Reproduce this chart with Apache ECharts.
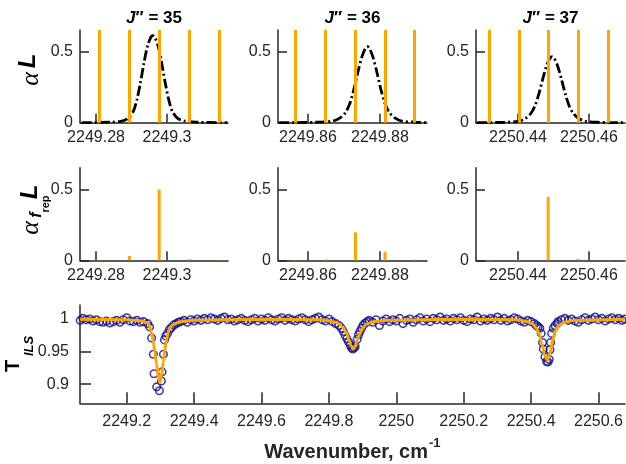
<!DOCTYPE html>
<html>
<head>
<meta charset="utf-8">
<script src="https://cdn.jsdelivr.net/npm/echarts@6/dist/echarts.min.js"></script>
<style>
  html, body { margin: 0; padding: 0; background: #fff; }
  #main { width: 626px; height: 464px; }
</style>
</head>
<body>
<div id="main"></div>
<script>
// panel titles (J'' values)
var jValues = ['35', '36', '37'];

// tick labels
var tickY = [0, 0.5];
var tickTY = [0.9, 0.95, 1];
var tickX = [[2249.28, 2249.3], [2249.86, 2249.88], [2250.44, 2250.46]];
var tickXB = [2249.2, 2249.4, 2249.6, 2249.8, 2250, 2250.2, 2250.4, 2250.6];

// comb mode positions (cm-1) and sampled absorption per panel
var combX = [
  [2249.2809, 2249.2894, 2249.2978, 2249.3063, 2249.3147],
  [2249.8566, 2249.8649, 2249.8732, 2249.8814, 2249.8896],
  [2250.4318, 2250.4403, 2250.4485, 2250.4569, 2250.4654]
];
var combAmp = [
  [0.003, 0.030, 0.500, 0.008, 0.003],
  [0.003, 0.006, 0.197, 0.060, 0.004],
  [0.003, 0.004, 0.448, 0.010, 0.003]
];

// absorption profiles alpha*L
var prof35X = [2249.2760, 2249.2840, 2249.2870, 2249.2890, 2249.2905, 2249.2915, 2249.2925, 2249.2935, 2249.2945, 2249.2955, 2249.2960, 2249.2965, 2249.2975, 2249.2985, 2249.2995, 2249.3005, 2249.3015, 2249.3030, 2249.3050, 2249.3080, 2249.3170];
var prof35Y = [0.000, 0.004, 0.010, 0.030, 0.080, 0.160, 0.280, 0.420, 0.540, 0.605, 0.614, 0.605, 0.540, 0.420, 0.280, 0.160, 0.080, 0.030, 0.012, 0.004, 0.000];
var prof36X = [2249.8520, 2249.8635, 2249.8670, 2249.8690, 2249.8705, 2249.8717, 2249.8728, 2249.8739, 2249.8750, 2249.8760, 2249.8765, 2249.8770, 2249.8780, 2249.8791, 2249.8802, 2249.8813, 2249.8825, 2249.8840, 2249.8860, 2249.8895, 2249.8930];
var prof36Y = [0.000, 0.004, 0.012, 0.035, 0.075, 0.140, 0.240, 0.360, 0.465, 0.527, 0.535, 0.527, 0.465, 0.360, 0.240, 0.140, 0.075, 0.035, 0.012, 0.004, 0.000];
var prof37X = [2250.4285, 2250.4366, 2250.4401, 2250.4421, 2250.4436, 2250.4448, 2250.4459, 2250.4470, 2250.4481, 2250.4491, 2250.4496, 2250.4501, 2250.4511, 2250.4522, 2250.4533, 2250.4544, 2250.4556, 2250.4571, 2250.4591, 2250.4626, 2250.4700];
var prof37Y = [0.000, 0.003, 0.010, 0.030, 0.065, 0.120, 0.205, 0.310, 0.405, 0.458, 0.465, 0.458, 0.405, 0.310, 0.205, 0.120, 0.065, 0.030, 0.010, 0.003, 0.000];

// measured transmission T_ILS
var wn = [
  2249.062, 2249.07, 2249.08, 2249.09, 2249.10, 2249.11, 2249.12, 2249.13, 2249.14, 2249.15, 2249.16, 2249.17, 2249.18, 2249.19, 2249.20, 2249.21, 2249.22, 2249.23, 2249.24, 2249.25,
  2249.262, 2249.268, 2249.274, 2249.279, 2249.281, 2249.289, 2249.297, 2249.303, 2249.305, 2249.309, 2249.312, 2249.316, 2249.321, 2249.327, 2249.333, 2249.340, 2249.347, 2249.354,
  2249.36, 2249.37, 2249.38, 2249.39, 2249.40, 2249.41, 2249.42, 2249.43, 2249.44, 2249.45, 2249.46, 2249.47, 2249.48, 2249.49, 2249.50, 2249.51, 2249.52, 2249.53, 2249.54, 2249.55, 2249.56, 2249.57, 2249.58, 2249.59,
  2249.60, 2249.61, 2249.62, 2249.63, 2249.64, 2249.65, 2249.66, 2249.67, 2249.68, 2249.69, 2249.70, 2249.71, 2249.72, 2249.73, 2249.74, 2249.75, 2249.76, 2249.77, 2249.78, 2249.79, 2249.80, 2249.81, 2249.82, 2249.83,
  2249.837, 2249.843, 2249.848, 2249.853, 2249.858, 2249.863, 2249.867, 2249.871, 2249.875, 2249.878, 2249.884, 2249.888, 2249.892, 2249.897, 2249.902, 2249.908, 2249.914,
  2249.92, 2249.93, 2249.94, 2249.95, 2249.96, 2249.97, 2249.98, 2249.99, 2250.00, 2250.01, 2250.02, 2250.03, 2250.04, 2250.05, 2250.06, 2250.07, 2250.08, 2250.09, 2250.10, 2250.11, 2250.12, 2250.13, 2250.14, 2250.15, 2250.16,
  2250.17, 2250.18, 2250.19, 2250.20, 2250.21, 2250.22, 2250.23, 2250.24, 2250.25, 2250.26, 2250.27, 2250.28, 2250.29, 2250.30, 2250.31, 2250.32, 2250.33, 2250.34, 2250.35, 2250.36, 2250.37, 2250.38, 2250.39, 2250.40, 2250.41,
  2250.416, 2250.421, 2250.426, 2250.430, 2250.434, 2250.436, 2250.441, 2250.446, 2250.450, 2250.454, 2250.456, 2250.458, 2250.461, 2250.466, 2250.471, 2250.477,
  2250.48, 2250.49, 2250.50, 2250.51, 2250.52, 2250.53, 2250.54, 2250.55, 2250.56, 2250.57, 2250.58, 2250.59, 2250.60, 2250.61, 2250.62, 2250.63, 2250.64, 2250.65, 2250.66, 2250.67, 2250.678
];
var tIls = [
  0.998, 1.001, 0.999, 1.000, 0.997, 0.999, 0.996, 0.995, 0.997, 0.994, 0.996, 0.998, 0.995, 0.999, 1.002, 0.997, 0.996, 0.998, 0.995, 0.996,
  0.993, 0.988, 0.971, 0.946, 0.916, 0.896, 0.890, 0.905, 0.919, 0.946, 0.968, 0.974, 0.978, 0.984, 0.987, 0.991, 0.993, 0.995,
  0.996, 0.998, 0.995, 0.999, 0.997, 1.000, 0.998, 1.001, 0.999, 1.002, 1.000, 0.998, 1.001, 1.003, 0.999, 1.000, 0.997, 0.999, 1.001, 0.998, 0.996, 0.999, 1.001, 0.997,
  1.000, 0.998, 1.002, 0.999, 0.997, 1.000, 1.002, 0.998, 1.001, 0.999, 0.997, 1.000, 1.002, 0.999, 0.996, 0.999, 1.001, 1.003, 0.999, 0.997, 1.000, 0.996, 0.993, 0.990,
  0.986, 0.981, 0.975, 0.970, 0.965, 0.960, 0.956, 0.954, 0.956, 0.958, 0.969, 0.976, 0.981, 0.986, 0.991, 0.994, 0.996,
  0.998, 0.995, 0.999, 0.990, 0.997, 1.000, 0.996, 0.999, 0.997, 1.001, 0.993, 0.998, 1.000, 0.995, 0.999, 1.002, 0.997, 1.000, 0.996, 1.001, 0.999, 1.003, 0.998, 1.000, 0.997,
  1.001, 0.999, 1.002, 0.998, 0.996, 1.000, 0.999, 1.003, 0.997, 1.000, 0.998, 1.001, 0.999, 1.003, 0.998, 1.001, 0.997, 0.999, 1.002, 1.000, 0.997, 0.995, 0.998, 0.996, 0.993,
  0.990, 0.988, 0.986, 0.978, 0.964, 0.954, 0.942, 0.935, 0.934, 0.938, 0.953, 0.964, 0.978, 0.986, 0.990, 0.993,
  0.996, 0.999, 1.001, 0.998, 1.000, 0.997, 0.995, 0.999, 1.002, 0.998, 1.000, 1.003, 0.999, 1.001, 0.997, 1.000, 1.002, 0.999, 1.001, 0.998, 1.000
];

// fitted transmission
var fitWn = [2249.062, 2249.200, 2249.240, 2249.2635, 2249.2685, 2249.2735, 2249.2785, 2249.2835, 2249.2885, 2249.2935, 2249.2985, 2249.3035, 2249.3085, 2249.3135, 2249.3185, 2249.3235, 2249.3285, 2249.3385, 2249.3585, 2249.3985, 2249.600, 2249.780,
  2249.822, 2249.832, 2249.842, 2249.852, 2249.860, 2249.866, 2249.872, 2249.878, 2249.884, 2249.892, 2249.902, 2249.912, 2249.932, 2249.972, 2250.200, 2250.360,
  2250.388, 2250.403, 2250.416, 2250.424, 2250.432, 2250.440, 2250.448, 2250.456, 2250.464, 2250.472, 2250.482, 2250.498, 2250.528, 2250.678];
var fitT = [0.9995, 0.9990, 0.9975, 0.994, 0.988, 0.979, 0.966, 0.950, 0.931, 0.913, 0.9025, 0.914, 0.934, 0.954, 0.969, 0.980, 0.987, 0.992, 0.996, 0.998, 0.9995, 0.9990,
  0.995, 0.992, 0.987, 0.979, 0.968, 0.959, 0.954, 0.959, 0.968, 0.979, 0.987, 0.992, 0.996, 0.998, 0.9995, 0.999,
  0.996, 0.993, 0.986, 0.977, 0.962, 0.945, 0.937, 0.948, 0.968, 0.982, 0.990, 0.995, 0.998, 0.9995];

var ORANGE = '#FFA500';
var AXIS = '#262626';
var FONT = 'Liberation Sans';

function zip(a, b) {
  return a.map(function (v, i) { return [v, b[i]]; });
}

var chartDom = document.getElementById('main');
var myChart = echarts.init(chartDom);

// panel geometry
var colLeft = [80, 278, 476];
var colWidth = [148, 149, 149];
var xRange = [[2249.27549, 2249.31718], [2249.85167, 2249.89306], [2250.42817, 2250.47014]];
var profX = [prof35X, prof36X, prof37X];
var profY = [prof35Y, prof36Y, prof37Y];

function mkAxis(opts) {
  return {
    type: 'value',
    gridIndex: opts.grid,
    min: opts.min,
    max: opts.max,
    axisLine: { show: true, onZero: false, lineStyle: { color: AXIS, width: 1.5 } },
    axisTick: { show: true, inside: true, length: opts.tick, customValues: opts.ticks, lineStyle: { color: AXIS, width: 1.5 } },
    axisLabel: { show: true, customValues: opts.ticks, margin: opts.margin, color: AXIS, fontSize: 16, fontFamily: FONT,
      formatter: function (v) { return String(v); } },
    splitLine: { show: false }
  };
}

var grid = [], xAxis = [], yAxis = [], series = [];

for (var i = 0; i < 3; i++) {
  // top row: alpha L with comb lines
  grid.push({ left: colLeft[i], top: 30, width: colWidth[i], height: 92.7 });
  xAxis.push(mkAxis({ grid: i, min: xRange[i][0], max: xRange[i][1], ticks: tickX[i], tick: 9, margin: 7 }));
  yAxis.push(mkAxis({ grid: i, min: 0, max: 0.653, ticks: tickY, tick: 9, margin: 7 }));
  series.push({
    type: 'line', xAxisIndex: i, yAxisIndex: i,
    data: zip(profX[i], profY[i]),
    showSymbol: false, smooth: 0.3, clip: false,
    lineStyle: { color: '#000', width: 2.8, type: [10, 3, 2, 3] },
    markLine: {
      silent: true, precision: 6, symbol: ['none', 'none'], label: { show: false },
      lineStyle: { color: ORANGE, width: 3, type: 'solid' },
      data: combX[i].map(function (v) { return { xAxis: v }; })
    }
  });
}
for (var i = 0; i < 3; i++) {
  // middle row: sampled by comb
  grid.push({ left: colLeft[i], top: 167.7, width: colWidth[i], height: 92.6 });
  xAxis.push(mkAxis({ grid: 3 + i, min: xRange[i][0], max: xRange[i][1], ticks: tickX[i], tick: 9, margin: 7 }));
  yAxis.push(mkAxis({ grid: 3 + i, min: 0, max: 0.653, ticks: tickY, tick: 9, margin: 7 }));
  series.push({
    type: 'bar', xAxisIndex: 3 + i, yAxisIndex: 3 + i,
    data: zip(combX[i], combAmp[i]),
    barWidth: 3, itemStyle: { color: ORANGE }
  });
}

// bottom: transmission
grid.push({ left: 80, top: 305, width: 545, height: 98.3 });
xAxis.push(mkAxis({ grid: 6, min: 2249.06142, max: 2250.67864, ticks: tickXB, tick: 11, margin: 10 }));
yAxis.push(mkAxis({ grid: 6, min: 0.87077, max: 1.02154, ticks: tickTY, tick: 11, margin: 11 }));
series.push({
  type: 'scatter', xAxisIndex: 6, yAxisIndex: 6,
  data: zip(wn, tIls), clip: false,
  symbol: 'circle', symbolSize: 7.5,
  itemStyle: { color: 'rgba(255,255,255,0)', borderColor: '#10108f', borderWidth: 1.6 },
  z: 2
});
series.push({
  type: 'line', xAxisIndex: 6, yAxisIndex: 6,
  data: zip(fitWn, fitT), showSymbol: false, smooth: 0.3, smoothMonotone: 'x',
  lineStyle: { color: ORANGE, width: 3 },
  z: 3
});

var graphic = [];
var titleX = [154, 352.5, 550.5];
for (var i = 0; i < 3; i++) {
  graphic.push({
    type: 'text', x: titleX[i], y: 18,
    style: {
      text: '{j|J}{t|\u2032\u2032 = ' + jValues[i] + '}',
      align: 'center', verticalAlign: 'middle', fill: '#000',
      rich: {
        j: { fontFamily: FONT, fontSize: 17, fontWeight: 'bold', fontStyle: 'italic', fill: '#000' },
        t: { fontFamily: FONT, fontSize: 17, fontWeight: 'bold', fill: '#000' }
      }
    }
  });
}

function rotText(x, y, text, font) {
  return { type: 'text', x: x, y: y, rotation: Math.PI / 2,
    style: { text: text, font: font, fill: '#000', align: 'center', verticalAlign: 'middle' } };
}
// y labels
graphic.push(rotText(31, 79, '\u03b1', 'italic 26px Liberation Serif'));
graphic.push(rotText(28.5, 61, 'L', 'italic bold 24px Liberation Sans'));
graphic.push(rotText(31, 228, '\u03b1', 'italic 26px Liberation Serif'));
graphic.push(rotText(37, 215, 'f', 'italic bold 16px Liberation Sans'));
graphic.push(rotText(46, 204, 'rep', 'bold 11px Liberation Sans'));
graphic.push(rotText(30.5, 192, 'L', 'italic bold 24px Liberation Sans'));
graphic.push(rotText(13.5, 366, 'T', 'bold 20px Liberation Sans'));
graphic.push(rotText(29, 346, 'ILS', 'italic bold 13px Liberation Sans'));
// x label
graphic.push({ type: 'text', x: 428, y: 452,
  style: { text: 'Wavenumber, cm', font: 'bold 20px Liberation Sans', fill: '#262626', align: 'right', verticalAlign: 'middle' } });
graphic.push({ type: 'text', x: 429, y: 443,
  style: { text: '-1', font: 'bold 13px Liberation Sans', fill: '#262626', align: 'left', verticalAlign: 'middle' } });

var option = {
  animation: false,
  backgroundColor: '#fff',
  grid: grid,
  xAxis: xAxis,
  yAxis: yAxis,
  series: series,
  graphic: graphic
};

option && myChart.setOption(option);
</script>
</body>
</html>
